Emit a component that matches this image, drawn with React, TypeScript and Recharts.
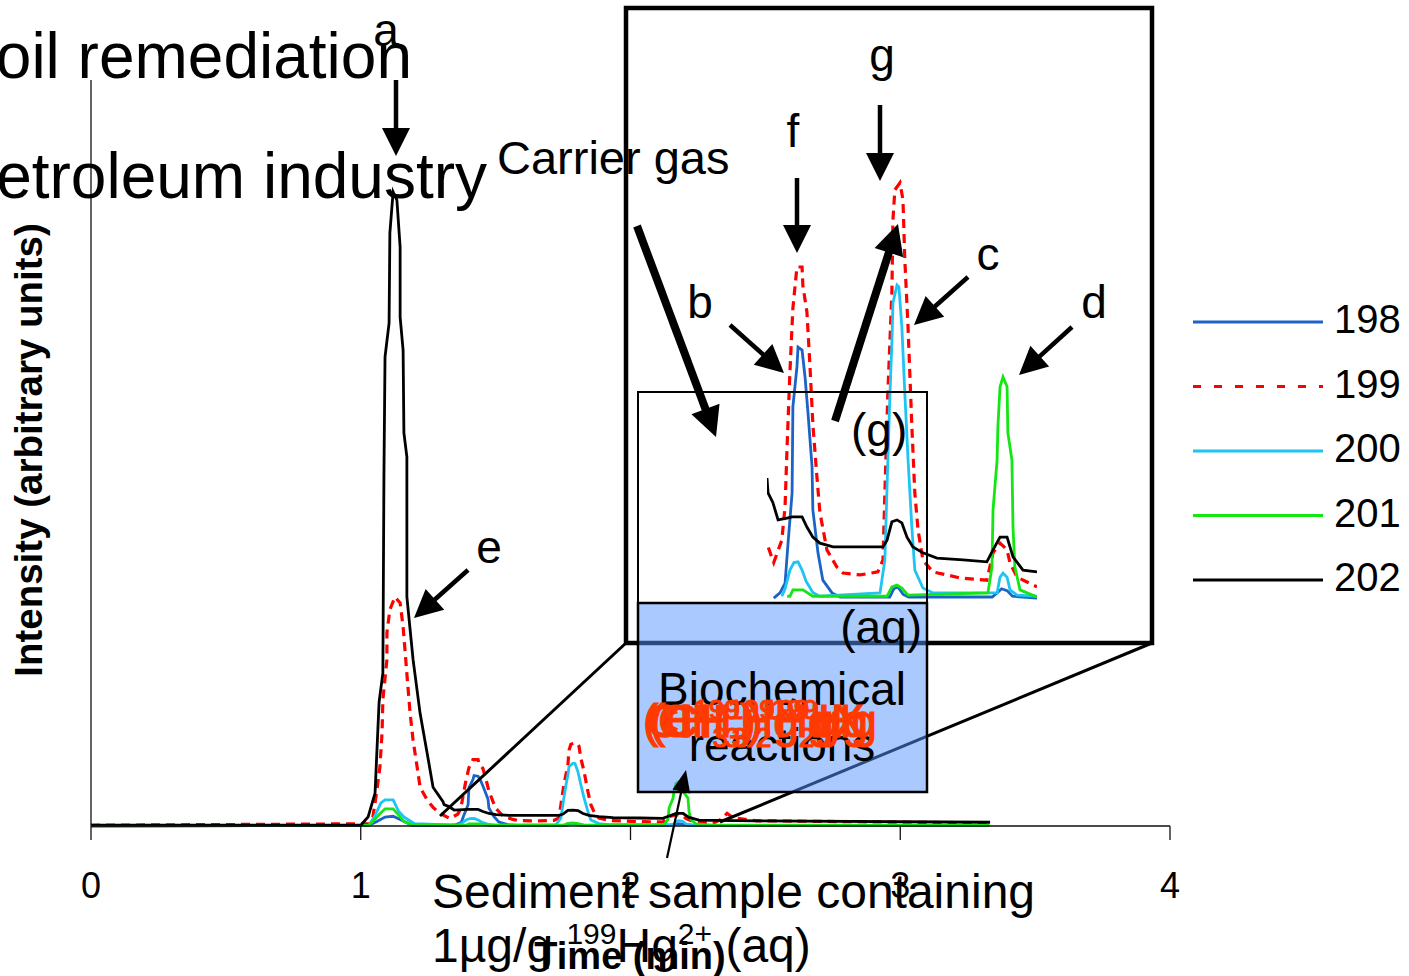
import React from 'react';
import { LineChart, Line, XAxis, YAxis } from 'recharts';

type Pt = [number, number];

// [time (min), intensity (arbitrary units)] for each Hg isotope trace
const ion198: Pt[] = [
  [0, 0], [1.03, 0.1], [1.06, 0.6], [1.09, 1.2], [1.12, 1.3], [1.15, 0.8], [1.19, 0.1],
  [1.33, 0.05], [1.353, 0.19], [1.372, 0.45], [1.383, 1.52], [1.398, 2.86], [1.401, 5.16],
  [1.416, 6.23], [1.42, 6.76], [1.435, 6.68], [1.446, 5.96], [1.457, 5.0], [1.472, 3.56],
  [1.475, 2.41], [1.494, 1.26], [1.512, 0.53], [1.546, 0.19], [1.576, 0.08], [1.76, 0.08],
  [1.775, 0.3], [1.79, 0.35], [1.81, 0.15], [1.83, 0.08], [2.14, 0.08], [2.16, 0.2],
  [2.175, 0.3], [2.195, 0.25], [2.215, 0.1], [2.306, 0.05], [3.33, 0.05],
];

const ion199: Pt[] = [
  [0, 0.1], [1.03, 0.3], [1.045, 1.2], [1.06, 4.8], [1.071, 7.9], [1.079, 12.5], [1.082, 16.9],
  [1.097, 22.3], [1.097, 25.9], [1.108, 29.0], [1.127, 30.7], [1.146, 29.9], [1.157, 26.7],
  [1.164, 23.6], [1.175, 18.6], [1.183, 15.1], [1.194, 11.5], [1.209, 7.9], [1.22, 5.2],
  [1.246, 3.5], [1.268, 2.5], [1.294, 1.7], [1.31, 1.4], [1.33, 1.0], [1.36, 1.6],
  [1.372, 2.5], [1.379, 4.0], [1.39, 6.1], [1.401, 7.8], [1.416, 8.9], [1.435, 8.9],
  [1.438, 8.4], [1.453, 7.7], [1.464, 6.3], [1.475, 4.7], [1.49, 3.3], [1.501, 2.35],
  [1.527, 1.34], [1.564, 0.88], [1.587, 0.72], [1.65, 0.67], [1.716, 0.75], [1.735, 1.07],
  [1.742, 2.86], [1.753, 5.53], [1.768, 8.21], [1.772, 10.16], [1.779, 10.96], [1.798, 11.15],
  [1.809, 10.7], [1.816, 9.09], [1.828, 7.27], [1.842, 4.65], [1.853, 2.86], [1.865, 1.87],
  [1.883, 1.07], [1.92, 0.75], [1.972, 0.67], [2.02, 0.59], [2.12, 0.53], [2.131, 0.88],
  [2.143, 1.26], [2.169, 1.52], [2.195, 1.34], [2.206, 0.99], [2.232, 0.61], [2.269, 0.48],
  [2.306, 0.35], [2.34, 1.0], [2.358, 1.7], [2.38, 1.1], [2.469, 0.7], [3.333, 0.4],
];

const ion200: Pt[] = [
  [0, 0], [1.03, 0.1], [1.05, 1.2], [1.075, 3.1], [1.09, 3.5], [1.12, 3.5], [1.14, 2.0],
  [1.16, 1.2], [1.2, 0.3], [1.36, 0.1], [1.372, 0.3], [1.39, 0.8], [1.405, 1.0], [1.42, 1.02],
  [1.435, 0.8], [1.45, 0.5], [1.475, 0.2], [1.5, 0.1], [1.724, 0.19], [1.742, 1.07],
  [1.753, 3.74], [1.761, 5.53], [1.768, 6.87], [1.772, 7.94], [1.787, 8.42], [1.794, 8.37],
  [1.805, 7.3], [1.816, 5.53], [1.828, 3.74], [1.842, 1.95], [1.853, 0.8], [1.883, 0.32],
  [1.92, 0.19], [2.158, 0.19], [2.169, 0.61], [2.18, 0.72], [2.195, 0.61], [2.206, 0.27],
  [2.232, 0.13], [2.306, 0.1], [3.33, 0.1],
];

const ion201: Pt[] = [
  [0, 0], [1.03, 0.1], [1.05, 0.8], [1.07, 1.6], [1.09, 2.3], [1.12, 2.3], [1.14, 1.5],
  [1.16, 0.6], [1.19, 0.2], [1.38, 0.1], [1.39, 0.1], [1.401, 0.27], [1.438, 0.27],
  [1.475, 0.1], [1.75, 0.1], [1.768, 0.35], [1.787, 0.4], [1.805, 0.32], [1.828, 0.13],
  [2.124, 0.19], [2.139, 0.88], [2.143, 2.41], [2.158, 3.74], [2.161, 4.63], [2.169, 5.7],
  [2.18, 5.96], [2.195, 5.7], [2.198, 4.47], [2.213, 3.74], [2.217, 1.95], [2.224, 0.88],
  [2.243, 0.27], [2.269, 0.19], [2.306, 0.08], [3.33, 0.08],
];

const ion202: Pt[] = [
  [0, 0.1], [1.0, 0.1], [1.027, 1.2], [1.053, 4.4], [1.068, 16.6], [1.082, 20.5], [1.086, 47.3],
  [1.09, 62.9], [1.105, 67.4], [1.108, 79.5], [1.12, 85.0], [1.134, 83.9], [1.146, 77.6],
  [1.146, 68.2], [1.157, 63.8], [1.16, 52.7], [1.171, 49.5], [1.171, 30.7], [1.194, 22.3],
  [1.22, 15.1], [1.246, 9.8], [1.268, 5.2], [1.305, 3.26], [1.309, 2.86], [1.327, 2.6],
  [1.346, 2.14], [1.379, 2.19], [1.398, 2.22], [1.435, 2.22], [1.453, 1.95], [1.475, 1.68],
  [1.501, 1.52], [1.55, 1.42], [1.735, 1.42], [1.75, 1.6], [1.768, 2.09], [1.787, 2.14],
  [1.805, 2.06], [1.824, 1.68], [1.846, 1.42], [1.883, 1.26], [1.935, 1.12], [2.032, 1.07],
  [2.12, 1.02], [2.143, 1.34], [2.169, 1.68], [2.195, 1.68], [2.217, 1.15], [2.254, 0.8],
  [2.306, 0.75], [2.469, 0.7], [3.333, 0.5],
];

const isotopes = ['198', '199', '200', '201', '202'];
const traces = [ion198, ion199, ion200, ion201, ion202];
const colors = ['#1b63c6', '#ff0000', '#1ec4f2', '#14e614', '#000000'];
const dashes = [undefined, '9 6', undefined, undefined, undefined];
const legendDashes = [undefined, '8 13', undefined, undefined, undefined];

const xTicks = [0, 1, 2, 3, 4];
const insetRange: [number, number] = [1.305, 2.306];

const FONT = '"Liberation Sans", Arial, sans-serif';
const SPECIES_RED = '#ff3a00';

const toRows = (pts: Pt[]) => pts.map(([t, v]) => ({ t, v }));
const clipRows = (pts: Pt[]) =>
  toRows(pts.filter(([t]) => t >= insetRange[0] && t <= insetRange[1]));

const XTick = (props: any) => {
  const { x, y, payload } = props;
  return (
    <text x={x} y={y + 56} textAnchor="middle" fontSize={36} fontFamily={FONT} fill="#000">
      {payload.value}
    </text>
  );
};

const Arrow = ({ x1, y1, x2, y2, w = 4.5, head = 28, half = 14 }: any) => {
  const dx = x2 - x1;
  const dy = y2 - y1;
  const len = Math.hypot(dx, dy);
  const ux = dx / len;
  const uy = dy / len;
  const bx = x2 - ux * head;
  const by = y2 - uy * head;
  const px = -uy;
  const py = ux;
  return (
    <g>
      <line x1={x1} y1={y1} x2={bx + ux * 2} y2={by + uy * 2} stroke="#000" strokeWidth={w} />
      <polygon
        points={`${x2},${y2} ${bx + px * half},${by + py * half} ${bx - px * half},${by - py * half}`}
        fill="#000"
      />
    </g>
  );
};

const Label = ({ x, y, size = 46, anchor = 'middle', weight = 'normal', fill = '#000', children }: any) => (
  <text x={x} y={y} fontSize={size} textAnchor={anchor} fontWeight={weight} fontFamily={FONT} fill={fill}>
    {children}
  </text>
);

const SeriesLines = ({ clip }: { clip: boolean }) =>
  traces.map((pts, i) => (
    <Line
      key={isotopes[i]}
      name={isotopes[i]}
      data={clip ? clipRows(pts) : toRows(pts)}
      dataKey="v"
      type="linear"
      stroke={colors[i]}
      strokeWidth={i === 1 ? 3.2 : 2.8}
      strokeDasharray={dashes[i]}
      dot={false}
      activeDot={false}
      isAnimationActive={false}
    />
  ));

export default function App() {
  return (
    <div
      style={{
        position: 'absolute',
        left: 0,
        top: 0,
        width: 1409,
        height: 976,
        background: '#fff',
        overflow: 'hidden',
      }}
    >
      {/* full chromatogram */}
      <div style={{ position: 'absolute', left: 0, top: 0 }}>
        <LineChart width={1409} height={976} margin={{ top: 80, right: 239, bottom: 120, left: 61 }}>
          <XAxis
            type="number"
            dataKey="t"
            domain={[0, 4]}
            ticks={xTicks}
            interval={0}
            height={30}
            tickSize={14}
            tick={<XTick />}
            axisLine={{ stroke: '#111', strokeWidth: 1.3 }}
            tickLine={{ stroke: '#111', strokeWidth: 1.3 }}
          />
          <YAxis
            type="number"
            domain={[0, 100]}
            ticks={[0]}
            width={30}
            tickSize={13}
            tick={false}
            axisLine={{ stroke: '#111', strokeWidth: 1.3 }}
            tickLine={{ stroke: '#111', strokeWidth: 1.3 }}
          />
          {SeriesLines({ clip: false })}
        </LineChart>
      </div>

      {/* magnified view of 1.3 - 2.3 min */}
      <div style={{ position: 'absolute', left: 767, top: 151 }}>
        <LineChart width={270} height={449} margin={{ top: 0, right: 0, bottom: 0, left: 0 }}>
          <XAxis type="number" dataKey="t" domain={insetRange} hide />
          <YAxis type="number" domain={[0, 12]} hide />
          {SeriesLines({ clip: true })}
        </LineChart>
      </div>

      <svg
        width={1409}
        height={976}
        style={{ position: 'absolute', left: 0, top: 0, pointerEvents: 'none' }}
      >
        {/* inset frame and zoom guides */}
        <line x1={440} y1={816} x2={626} y2={643} stroke="#000" strokeWidth={3} />
        <line x1={720} y1={822} x2={1152} y2={643} stroke="#000" strokeWidth={3} />
        <rect x={626} y={8} width={526} height={635} fill="none" stroke="#000" strokeWidth={4.5} />
        <rect x={638} y={392} width={289} height={211} fill="none" stroke="#000" strokeWidth={2} />
        <rect
          x={638}
          y={603}
          width={289}
          height={189}
          fill="rgb(84,148,255)"
          fillOpacity={0.5}
          stroke="#000"
          strokeWidth={2.5}
        />

        {/* legend */}
        {isotopes.map((name, i) => {
          const y = 322 + i * 64.5;
          return (
            <g key={name}>
              <line
                x1={1193}
                y1={y}
                x2={1323}
                y2={y}
                stroke={colors[i]}
                strokeWidth={3}
                strokeDasharray={legendDashes[i]}
              />
              <Label x={1334} y={y + 11} size={40} anchor="start">
                {name}
              </Label>
            </g>
          );
        })}

        {/* axis title */}
        <text
          x={42}
          y={450}
          transform="rotate(-90, 42, 450)"
          fontSize={38.5}
          fontWeight="bold"
          textAnchor="middle"
          fontFamily={FONT}
        >
          Intensity (arbitrary units)
        </text>

        {/* annotations */}
        <Label x={412} y={78} size={64} anchor="end">Soil remediation</Label>
        <Label x={487} y={198} size={64} anchor="end">Petroleum industry</Label>
        <Label x={386} y={46}>a</Label>
        <Label x={497} y={174} size={47} anchor="start">Carrier gas</Label>
        <Label x={793} y={147}>f</Label>
        <Label x={882} y={71}>g</Label>
        <Label x={700} y={318}>b</Label>
        <Label x={988} y={270}>c</Label>
        <Label x={1094} y={318}>d</Label>
        <Label x={489} y={563}>e</Label>
        <Label x={851} y={446} anchor="start">(g)</Label>
        <Label x={922} y={643} anchor="end">(aq)</Label>
        <Label x={782} y={705}>Biochemical</Label>
        <Label x={782} y={761}>reactions</Label>

        <Arrow x1={396} y1={80} x2={396} y2={156} />
        <Arrow x1={797} y1={178} x2={797} y2={253} />
        <Arrow x1={880} y1={105} x2={880} y2={181} />
        <Arrow x1={730} y1={325} x2={784} y2={373} />
        <Arrow x1={968} y1={277} x2={914} y2={325} />
        <Arrow x1={1072} y1={327} x2={1019} y2={375} />
        <Arrow x1={468} y1={570} x2={414} y2={618} />
        <Arrow x1={637} y1={226} x2={716} y2={437} w={8} head={30} half={15} />
        <Arrow x1={835} y1={421} x2={898} y2={224} w={8} head={30} half={15} />
        <Arrow x1={667} y1={858} x2={686} y2={770} w={2.2} head={22} half={9} />

        <Label x={432} y={908} size={48} anchor="start">Sediment sample containing</Label>
        <Label x={432} y={962} size={48} anchor="start">
          1µg/g <tspan fontSize={30} dy={-18}>199</tspan>
          <tspan dy={18}>Hg</tspan>
          <tspan fontSize={30} dy={-18}>2+</tspan>
          <tspan dy={18}> (aq)</tspan>
        </Label>
        <Label x={630} y={969} size={38} weight="bold">Time (min)</Label>

        {/* mercury species, stacked on one spot */}
        <g stroke={SPECIES_RED} strokeWidth={1.2}>
          <Label x={643} y={737} anchor="start" fill={SPECIES_RED}>
            (CH<tspan fontSize={28} dy={10}>3</tspan>
            <tspan dy={-10}>)</tspan>
            <tspan fontSize={28} dy={10}>2</tspan>
            <tspan fontSize={28} dy={-28}>199</tspan>
            <tspan dy={18}>Hg</tspan>
          </Label>
          <Label x={646} y={737} anchor="start" fill={SPECIES_RED}>
            CH<tspan fontSize={28} dy={10}>3</tspan>
            <tspan fontSize={28} dy={-28}>199</tspan>
            <tspan dy={18}>HgX</tspan>
          </Label>
          <Label x={650} y={737} anchor="start" fill={SPECIES_RED}>
            (CH<tspan fontSize={28} dy={10}>3</tspan>
            <tspan dy={-10}>)</tspan>
            <tspan fontSize={28} dy={-18}>199</tspan>
            <tspan dy={18}>Hg</tspan>
          </Label>
          <Label x={660} y={737} anchor="start" fill={SPECIES_RED}>
            H<tspan fontSize={28} dy={-18}>199</tspan>
            <tspan dy={18}>Hg</tspan>
            <tspan fontSize={28} dy={10}>2</tspan>
            <tspan dy={-10}>g</tspan>
          </Label>
        </g>
      </svg>
    </div>
  );
}
